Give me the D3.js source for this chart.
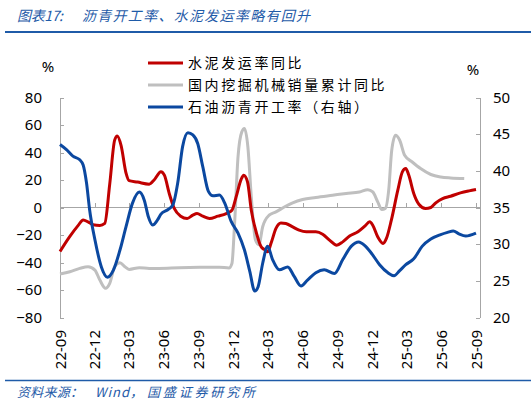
<!DOCTYPE html>
<html lang="zh">
<head>
<meta charset="UTF-8">
<title>沥青开工率、水泥发运率略有回升</title>
<style>
    body { margin: 0; background: #fff; }
    svg { display: block; }
    .title { font-family: "Noto Sans CJK SC", sans-serif; font-style: italic; font-size: 14px; fill: #1F5BA8; }
    .source { font-family: "Noto Sans CJK SC", sans-serif; font-style: italic; font-size: 13px; fill: #1F5BA8; }
    .axis text { font-family: "Noto Sans", sans-serif; font-size: 15px; fill: #000; }
    .axis path, .axis line { stroke: #A6A6A6; fill: none; shape-rendering: crispEdges; }
    .legend text { font-family: "Noto Sans CJK SC", sans-serif; font-size: 14px; fill: #000; }
    .unit { font-family: "Noto Sans", sans-serif; font-size: 15px; }
</style>
<script src="https://d3js.org/d3.v7.min.js"></script>
</head>
<body>
<div id="chart"></div>
<script>
// 水泥发运率同比 (%)
const cementDates = ["2022-09-01","2022-09-27","2022-10-19","2022-11-01","2022-11-14","2022-11-27","2022-12-15","2022-12-28",
    "2023-01-10","2023-01-23","2023-01-30","2023-02-09","2023-02-22","2023-03-02","2023-03-24","2023-04-24","2023-05-07",
    "2023-05-25","2023-06-03","2023-06-16","2023-06-29","2023-07-16","2023-08-02","2023-08-17","2023-08-28","2023-09-12",
    "2023-09-30","2023-10-22","2023-11-13","2023-11-28","2023-12-09","2023-12-22","2023-12-29","2024-01-08","2024-01-18",
    "2024-02-01","2024-02-13","2024-02-21","2024-03-01","2024-03-10","2024-03-23","2024-04-05","2024-04-18","2024-05-06",
    "2024-05-23","2024-06-11","2024-07-06","2024-07-24","2024-08-11","2024-08-30","2024-09-15","2024-10-03","2024-10-25",
    "2024-11-12","2024-11-25","2024-12-03","2024-12-16","2024-12-30","2025-01-08","2025-01-21","2025-02-07","2025-02-19",
    "2025-02-28","2025-03-08","2025-03-21","2025-04-04","2025-04-21","2025-05-05","2025-05-18","2025-06-05","2025-06-26",
    "2025-07-22","2025-08-14","2025-09-01"];
const cementYoy = [-32, -21, -13, -9, -10.5, -12.5, -13, -11.5,
    17, 49, 52, 45, 25, 19.5, 18.5, 17, 20,
    26, 23.5, 10, -0.7, -6.3, -8, -5.6, -4.4, -6.3,
    -8, -6.3, -4.4, -2, 7.7, 20.3, 23.4, 18.6, -2,
    -19, -28.6, -30.5, -32.2, -26, -15.2, -11.2, -11.6, -14.1,
    -16.5, -17.7, -17.7, -19.4, -23.7, -27.4, -25, -20.8, -17.7,
    -13.6, -10.4, -12.9, -21.3, -26.1, -22.5, -9.2, 12.6, 25.9,
    28.3, 23.4, 10.2, 2.2, -0.7, 0, 3.4, 6.5, 8.2,
    10.6, 12.1, 13.1];

// 国内挖掘机械销量累计同比 (%)
const excavatorDates = ["2022-09-01","2022-09-27","2022-10-23","2022-11-14","2022-12-02","2022-12-15","2022-12-30",
    "2023-01-10","2023-01-23","2023-02-06","2023-02-19","2023-03-02","2023-03-29","2023-04-24","2023-05-20","2023-07-12",
    "2023-09-04","2023-10-26","2023-11-20","2023-11-28","2023-12-05","2023-12-14","2023-12-24","2023-12-31","2024-01-09",
    "2024-01-18","2024-01-29","2024-02-07","2024-02-17","2024-03-05","2024-03-23","2024-04-14","2024-05-06","2024-06-01",
    "2024-07-06","2024-08-19","2024-09-24","2024-10-29","2024-11-20","2024-12-03","2024-12-16","2024-12-27","2025-01-05",
    "2025-01-14","2025-01-22","2025-02-01","2025-02-12","2025-02-25","2025-03-17","2025-04-08","2025-05-05","2025-05-31",
    "2025-06-26","2025-08-01"];
const excavatorYoy = [-48.3, -46.7, -44.3, -43.1, -45.5, -52.8, -58.8,
    -55.2, -43.1, -40.2, -43.1, -45, -43.8, -44.3, -44.3, -43.8,
    -43.5, -43.4, -44, -40.7, -11.6, 36.8, 55, 57.4, 44,
    7.7, -23.7, -27, -14, -5.6, -3.2, 0.4, 3.4, 5.8,
    7.3, 8.9, 10.2, 11.3, 13, 11.3, 4.1, -1.5, -0.7,
    12.6, 41.6, 52.5, 48.9, 38, 33.1, 28.3, 24, 22.2,
    21.5, 21.1];

// 石油沥青开工率 (%, 右轴)
const asphaltDates = ["2022-09-01","2022-09-18","2022-10-05","2022-10-23","2022-11-01","2022-11-10","2022-11-18","2022-12-02",
    "2022-12-19","2023-01-04","2023-01-20","2023-02-06","2023-02-22","2023-03-11","2023-03-29","2023-04-11","2023-04-22",
    "2023-05-03","2023-05-16","2023-05-25","2023-06-12","2023-06-25","2023-07-08","2023-07-21","2023-08-04","2023-08-17",
    "2023-08-30","2023-09-12","2023-09-27","2023-10-09","2023-10-26","2023-11-09","2023-11-26","2023-12-14","2023-12-31",
    "2024-01-14","2024-01-27","2024-02-05","2024-02-17","2024-03-01","2024-03-14","2024-04-01","2024-04-23","2024-05-10",
    "2024-05-28","2024-06-14","2024-07-06","2024-07-28","2024-08-24","2024-09-15","2024-10-07","2024-10-27","2024-11-12",
    "2024-11-29","2024-12-21","2025-01-12","2025-01-28","2025-02-12","2025-02-28","2025-03-21","2025-04-12","2025-05-05",
    "2025-05-31","2025-06-18","2025-07-03","2025-07-18","2025-08-05","2025-09-01"];
const asphaltRate = [43.6, 42.9, 42, 41.5, 40.8, 38.3, 34.7, 30.6,
    26.9, 25.5, 26.5, 29.2, 32.4, 35.6, 37.1, 36, 33.7,
    32.6, 33.3, 34.1, 34.7, 35.3, 38.3, 43.3, 45.2, 44.9,
    43.7, 40.6, 37.2, 36.6, 36.7, 35.6, 33.1, 31.5, 29.2,
    26.3, 23.6, 24.2, 27.4, 29.7, 27.9, 26.5, 26.9, 25.6,
    24.3, 25.1, 26.1, 26.5, 26, 27.9, 29.7, 30.3, 29.8,
    28.8, 27.2, 26.1, 25.7, 26.4, 27.2, 28, 29.7, 30.7,
    31.3, 31.6, 31.8, 31.4, 31.1, 31.5];

const tickLabels = ["22-09","22-12","23-03","23-06","23-09","23-12","24-03","24-06","24-09","24-12","25-03","25-06","25-09"];
const leftTicks = [80, 60, 40, 20, 0, -20, -40, -60, -80];
const rightTicks = [50, 45, 40, 35, 30, 25, 20];

const width = 531, height = 406;
const margin = { top: 97.5, bottom: 88.5, left: 60, right: 54 };
const parse = d3.timeParse("%Y-%m-%d");
const tickParse = d3.timeParse("%y-%m");

const svg = d3.select("#chart").append("svg")
    .attr("width", width)
    .attr("height", height);

svg.append("rect").attr("width", width).attr("height", height).attr("fill", "#fff");

// title and rules
const title = svg.append("text").attr("class", "title").attr("y", 21);
title.append("tspan").attr("x", 17).attr("textLength", 46).attr("lengthAdjust", "spacing").text("图表17:");
title.append("tspan").attr("x", 82).attr("textLength", 228).attr("lengthAdjust", "spacing").text("沥青开工率、水泥发运率略有回升");
svg.append("line").attr("x1", 5).attr("x2", 531).attr("y1", 32).attr("y2", 32)
    .attr("stroke", "#1F5BA8").attr("stroke-width", 2);
svg.append("line").attr("x1", 5).attr("x2", 531).attr("y1", 380.5).attr("y2", 380.5)
    .attr("stroke", "#1F5BA8").attr("stroke-width", 1.5);
const source = svg.append("text").attr("class", "source").attr("y", 397);
source.append("tspan").attr("x", 17).attr("textLength", 66).attr("lengthAdjust", "spacing").text("资料来源：");
source.append("tspan").attr("x", 95).attr("textLength", 48).attr("lengthAdjust", "spacing").text("Wind，");
source.append("tspan").attr("x", 147).attr("textLength", 108).attr("lengthAdjust", "spacing").text("国盛证券研究所");

const x = d3.scaleTime()
    .domain([tickParse("22-09"), tickParse("25-09")])
    .range([margin.left, width - margin.right - 1]);
const yL = d3.scaleLinear().domain([-80, 80]).range([height - margin.bottom, margin.top]);
const yR = d3.scaleLinear().domain([20, 50]).range([height - margin.bottom, margin.top]);

// left axis
const gL = svg.append("g").attr("class", "axis")
    .attr("transform", `translate(${margin.left},0)`)
    .call(d3.axisRight(yL).tickValues(leftTicks).tickSize(4).tickSizeOuter(0).tickFormat(d3.format("d")));
gL.selectAll("text").attr("x", -18).attr("text-anchor", "end");

// right axis
const gR = svg.append("g").attr("class", "axis")
    .attr("transform", `translate(${width - margin.right + 3},0)`)
    .call(d3.axisLeft(yR).tickValues(rightTicks).tickSize(4).tickSizeOuter(0));
gR.selectAll("text").attr("x", 13).attr("text-anchor", "start");

// x axis along zero
const gX = svg.append("g").attr("class", "axis")
    .attr("transform", `translate(0,${yL(0)})`)
    .call(d3.axisTop(x).tickValues(tickLabels.map(tickParse)).tickSize(5).tickSizeOuter(0).tickFormat(d3.timeFormat("%y-%m")));
gX.select(".domain").attr("stroke", "#BFBFBF").attr("stroke-width", 1.5).attr("d", `M${margin.left},0H${width - margin.right + 3}`);
gX.selectAll("text")
    .attr("transform", d => `translate(0,${330 - yL(0)}) rotate(-90)`)
    .attr("x", 0).attr("y", 0).attr("dy", "0.35em")
    .attr("text-anchor", "end");

// units
svg.append("text").attr("class", "unit").attr("x", 48).attr("y", 72).attr("text-anchor", "middle").text("%");
svg.append("text").attr("class", "unit").attr("x", 473).attr("y", 75).attr("text-anchor", "middle").text("%");

const curve = d3.curveMonotoneX;

const lineL = d3.line().x(d => x(d[0])).y(d => yL(d[1])).curve(curve);
const lineR = d3.line().x(d => x(d[0])).y(d => yR(d[1])).curve(curve);

const excavator = excavatorDates.map((d, i) => [parse(d), excavatorYoy[i]]);
const cement = cementDates.map((d, i) => [parse(d), cementYoy[i]]);
const asphalt = asphaltDates.map((d, i) => [parse(d), asphaltRate[i]]);

svg.append("path").datum(excavator).attr("d", lineL)
    .attr("fill", "none").attr("stroke", "#BFBFBF").attr("stroke-width", 3);
svg.append("path").datum(cement).attr("d", lineL)
    .attr("fill", "none").attr("stroke", "#C00000").attr("stroke-width", 3);
svg.append("path").datum(asphalt).attr("d", lineR)
    .attr("fill", "none").attr("stroke", "#0B48A0").attr("stroke-width", 3);

// legend
const legendItems = [
    { color: "#C00000", text: "水泥发运率同比" },
    { color: "#BFBFBF", text: "国内挖掘机械销量累计同比" },
    { color: "#0B48A0", text: "石油沥青开工率（右轴）" }
];
const legend = svg.append("g").attr("class", "legend").attr("transform", "translate(148,63)");
legend.selectAll("line").data(legendItems).enter().append("line")
    .attr("x1", 0).attr("x2", 35)
    .attr("y1", (d, i) => i * 22).attr("y2", (d, i) => i * 22)
    .attr("stroke", d => d.color).attr("stroke-width", 3);
legend.selectAll("text").data(legendItems).enter().append("text")
    .attr("x", 40).attr("y", (d, i) => i * 22).attr("dy", "0.35em")
    .attr("letter-spacing", "2.6px")
    .text(d => d.text);
</script>
</body>
</html>
